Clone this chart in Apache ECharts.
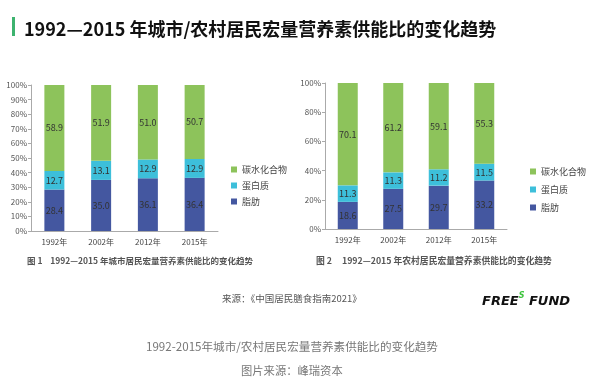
<!DOCTYPE html>
<html><head><meta charset="utf-8">
<script src="https://cdn.jsdelivr.net/npm/echarts@6/dist/echarts.min.js"></script>
<style>html,body{margin:0;padding:0;background:#fff}#c{width:598px;height:384px}</style>
</head><body><div id="c"></div>
<script>
const categories = ['1992年','2002年','2012年','2015年'];
const seriesNames = ['碳水化合物','蛋白质','脂肪'];
const urbanFat = [28.4, 35.0, 36.1, 36.4];
const urbanProtein = [12.7, 13.1, 12.9, 12.9];
const urbanCarb = [58.9, 51.9, 51.0, 50.7];
const ruralFat = [18.6, 27.5, 29.7, 33.2];
const ruralProtein = [11.3, 11.3, 11.2, 11.5];
const ruralCarb = [70.1, 61.2, 59.1, 55.3];

const FONT = '"Noto Sans CJK SC", "Noto Sans", sans-serif';
const C_CARB = '#8DC35B', C_PROT = '#3DBFDA', C_FAT = '#4457A0';
const chart = echarts.init(document.getElementById('c'));

function mkSeries(name, data, color, idx, stack) {
  return {
    name, type: 'bar', stack, data, xAxisIndex: idx, yAxisIndex: idx,
    barWidth: 20, itemStyle: { color },
    label: { show: true, position: 'inside', fontSize: 9, color: '#333', fontFamily: FONT,
      formatter: p => p.value.toFixed(1) },
    emphasis: { disabled: true }
  };
}
function yAxis(idx, interval) {
  return {
    type: 'value', gridIndex: idx, min: 0, max: 100, interval,
    axisLabel: { formatter: '{value}%', fontSize: 8, color: '#555', fontFamily: FONT, margin: 4 },
    axisLine: { show: true, lineStyle: { color: '#aaa' } },
    axisTick: { show: true, length: 3, lineStyle: { color: '#aaa' } },
    splitLine: { show: false }
  };
}
function xAxis(idx) {
  return {
    type: 'category', gridIndex: idx, data: categories,
    axisLabel: { fontSize: 8, color: '#444', fontFamily: FONT, margin: 7 },
    axisLine: { lineStyle: { color: '#aaa' } },
    axisTick: { length: 3, lineStyle: { color: '#aaa' } }
  };
}
function legend(left, top, gap) {
  return {
    orient: 'vertical', left, top, data: seriesNames, itemWidth: 6, itemHeight: 6,
    itemGap: gap, icon: 'rect', textStyle: { fontSize: 9, color: '#444', fontFamily: FONT },
    selectedMode: false
  };
}

chart.setOption({
  animation: false,
  title: {
    text: '1992—2015 年城市/农村居民宏量营养素供能比的变化趋势',
    left: 19, top: 15,
    textStyle: { fontSize: 18, fontWeight: 'bold', color: '#111', fontFamily: FONT }
  },
  grid: [
    { left: 31, top: 85, width: 187, height: 146 },
    { left: 325, top: 83, width: 182, height: 146 }
  ],
  xAxis: [xAxis(0), xAxis(1)],
  yAxis: [yAxis(0, 10), yAxis(1, 20)],
  legend: [legend(226, 160, 7), legend(525, 162, 9)],
  series: [
    mkSeries('脂肪', urbanFat, C_FAT, 0, 'u'),
    mkSeries('蛋白质', urbanProtein, C_PROT, 0, 'u'),
    mkSeries('碳水化合物', urbanCarb, C_CARB, 0, 'u'),
    mkSeries('脂肪', ruralFat, C_FAT, 1, 'r'),
    mkSeries('蛋白质', ruralProtein, C_PROT, 1, 'r'),
    mkSeries('碳水化合物', ruralCarb, C_CARB, 1, 'r')
  ],
  graphic: [
    { type: 'rect', shape: { x: 12, y: 17, width: 3, height: 19 }, style: { fill: '#3DB36F' } },
    { type: 'text', left: 27, top: 257, style: { text: '图 1    1992—2015 年城市居民宏量营养素供能比的变化趋势',
        font: '600 8.5px ' + FONT, fill: '#555' } },
    { type: 'text', left: 316, top: 256, style: { text: '图 2     1992—2015 年农村居民宏量营养素供能比的变化趋势',
        font: '600 8.8px ' + FONT, fill: '#555' } },
    { type: 'text', left: 222, top: 294, style: { text: '来源：《中国居民膳食指南2021》',
        font: '9.5px ' + FONT, fill: '#555' } },
    { type: 'text', left: 482, top: 292, style: {
        text: '{a|FREE}{s|S}{a| FUND}',
        rich: {
          a: { font: 'italic bold 13px "DejaVu Sans", sans-serif', fill: '#111', verticalAlign: 'bottom' },
          s: { font: 'italic bold 8px "DejaVu Sans", sans-serif', fill: '#3ec43e', verticalAlign: 'top', padding: [0, 0, 8, 0] }
        } } },
    { type: 'text', left: 146, top: 341, style: { text: '1992-2015年城市/农村居民宏量营养素供能比的变化趋势',
        font: '11.6px ' + FONT, fill: '#777' } },
    { type: 'text', left: 241, top: 365, style: { text: '图片来源：峰瑞资本',
        font: '11.3px ' + FONT, fill: '#777' } }
  ]
});
</script></body></html>
